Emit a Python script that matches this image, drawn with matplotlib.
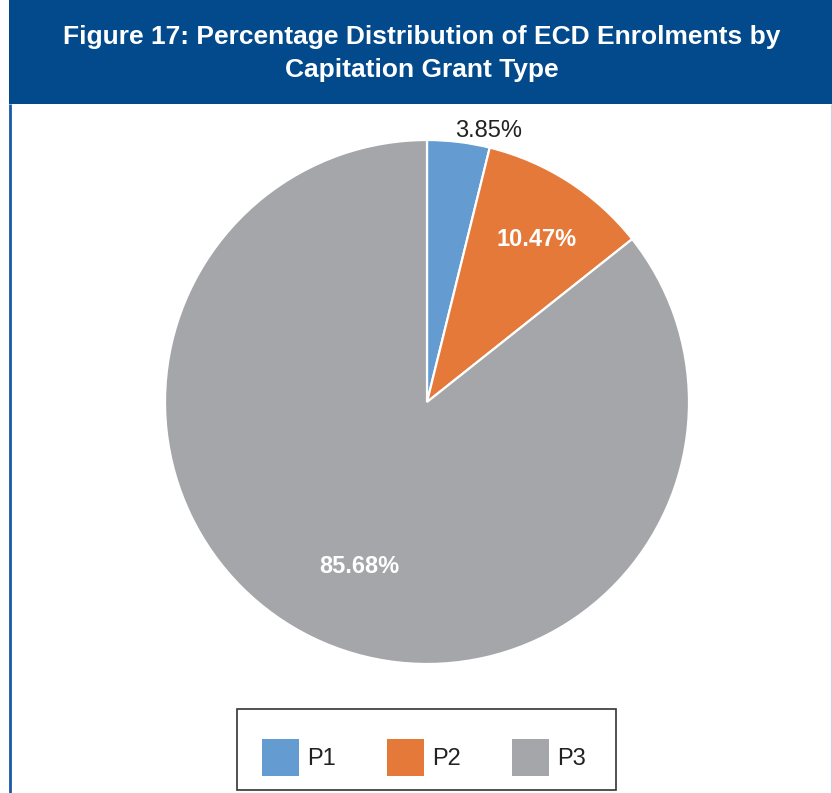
import numpy as np
import matplotlib
matplotlib.use("Agg")
import matplotlib.pyplot as plt
from matplotlib.patches import Rectangle

plt.rcParams['font.family'] = ['Liberation Sans', 'DejaVu Sans']

# Data
categories = ["P1", "P2", "P3"]
shares = [3.85, 10.47, 85.68]
label_text = ["3.85%", "10.47%", "85.68%"]

colors = ["#649CD2", "#E4793A", "#A5A6A9"]

W, H = 832, 793
fig = plt.figure(figsize=(W / 100, H / 100), dpi=100)
ax = fig.add_axes([0, 0, 1, 1])

# Pie in pixel-like data coordinates (y measured upward)
cx, cy, r = 427, H - 402, 262
wedges, _ = ax.pie(shares, colors=colors, startangle=90, counterclock=False,
                   radius=r, center=(cx, cy), frame=True,
                   wedgeprops=dict(edgecolor="white", linewidth=1.6))

ax.set_xlim(0, W)
ax.set_ylim(0, H)
ax.set_aspect("auto")
ax.axis("off")

# Value labels placed relative to each wedge's mid-angle
label_dist = [1.068, 0.757, 0.671]
label_shift = [-5.7, -1.0, 3.0]
label_style = [dict(color="#222222", fontweight="normal"),
               dict(color="white", fontweight="bold"),
               dict(color="white", fontweight="bold")]
for w, txt, d, s, st in zip(wedges, label_text, label_dist, label_shift, label_style):
    mid = np.deg2rad((w.theta1 + w.theta2) / 2 + s)
    ax.text(cx + d * r * np.cos(mid), cy + d * r * np.sin(mid), txt,
            ha="center", va="center_baseline", fontsize=17, **st)

# Header band and panel borders
ax.add_patch(Rectangle((9, H - 104), W - 9, 104, facecolor="#034A8C",
                       edgecolor="none", zorder=0))
ax.plot([10.3, 10.3], [0, H - 104], color="#1A5AA5", lw=2.0, solid_capstyle="butt")
ax.plot([830.5, 830.5], [0, H - 104], color="#C9D2DE", lw=0.8, solid_capstyle="butt")

ax.text(421.5, H - 44, "Figure 17: Percentage Distribution of ECD Enrolments by",
        ha="center", va="baseline", fontsize=19, fontweight="bold", color="white")
ax.text(421.5, H - 77, "Capitation Grant Type",
        ha="center", va="baseline", fontsize=19, fontweight="bold", color="white")

# Legend with a separately drawn box
ax.add_patch(Rectangle((237, H - 790), 616 - 237, 790 - 709, facecolor="none",
                       edgecolor="#333333", lw=1.2))
leg = ax.legend(wedges, categories, loc="center left",
                bbox_to_anchor=(262, H - 757.5), bbox_transform=ax.transData,
                ncol=3, frameon=False, fontsize=17, borderpad=0, borderaxespad=0,
                handlelength=1.57, handleheight=2.034, handletextpad=0.35,
                columnspacing=2.15)
for p in leg.get_patches():
    p.set_edgecolor("none")
for t in leg.get_texts():
    t.set_color("#222222")

fig.savefig("out.png", dpi=100)
